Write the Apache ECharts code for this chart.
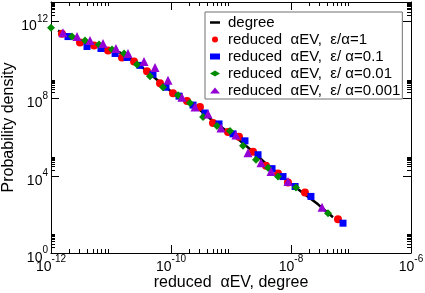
<!DOCTYPE html>
<html><head><meta charset="utf-8">
<script src="https://cdn.jsdelivr.net/npm/echarts@6/dist/echarts.min.js"></script>
<style>html,body{margin:0;padding:0;background:#fff}#c{width:425px;height:293px}</style>
</head><body><div id="c"></div>
<script>
// ---- data ----
const degreeLine = [[1.31e-12,3.29e11],[3.04e-12,1.0e11],[6.56e-12,4.94e10],[1.41e-11,2.43e10],[2.42e-11,9.43e9],[3.98e-11,2.56e9],[6.56e-11,6.97e8],[1.08e-10,1.90e8],[1.85e-10,6.53e7],[3.04e-10,2.53e7],[5.01e-10,6.89e6],[8.91e-10,1.87e6],[1.36e-9,7.26e5],[2.33e-9,1.75e5],[3.83e-9,4.24e4],[6.07e-9,1.30e4],[8.91e-9,5.03e3],[1.71e-8,1.08e3],[2.82e-8,331],[5.01e-8,71]];
const seriesEps1 = [[1.52e-12,2.30e11],[3.04e-12,7.94e10],[5.21e-12,5.57e10],[8.91e-12,3.08e10],[1.52e-11,1.34e10],[2.42e-11,8.37e9],[3.98e-11,2.56e9],[6.56e-11,6.20e8],[1.08e-10,1.90e8],[1.85e-10,7.35e7],[3.04e-10,3.61e7],[5.01e-10,5.43e6],[8.91e-10,1.87e6],[1.36e-9,1.04e6],[2.33e-9,1.75e5],[3.83e-9,3.34e4],[6.07e-9,1.30e4],[8.91e-9,4.47e3],[1.71e-8,1.37e3],[6.07e-8,56]];
const seriesEps01 = [[1.92e-12,1.62e11],[3.98e-12,4.94e10],[6.81e-12,3.90e10],[1.17e-11,2.16e10],[1.85e-11,1.34e10],[3.04e-11,5.21e9],[5.01e-11,1.80e9],[8.25e-11,3.86e8],[1.36e-10,1.33e8],[2.33e-10,4.58e7],[3.69e-10,1.78e7],[6.31e-10,4.83e6],[1.08e-9,1.48e6],[1.71e-9,6.45e5],[2.82e-9,1.23e5],[4.83e-9,2.34e4],[7.36e-9,9.10e3],[1.17e-8,2.79e3],[2.15e-8,853],[7.36e-8,35]];
const seriesEps001 = [[1.0e-12,4.69e11],[2.24e-12,1.62e11],[3.69e-12,1.0e11],[6.31e-12,6.27e10],[1.04e-11,3.47e10],[1.65e-11,2.16e10],[2.71e-11,5.87e9],[4.47e-11,1.42e9],[7.36e-11,3.86e8],[1.31e-10,1.50e8],[2.07e-10,5.80e7],[3.42e-10,1.11e7],[5.85e-10,3.81e6],[9.62e-10,2.11e6],[1.585e-9,3.57e5],[2.61e-9,6.81e4],[4.14e-9,2.64e4],[6.07e-9,9.10e3],[1.21e-8,2.47e3],[4.14e-8,114]];
const seriesEps0001 = [[1.585e-12,2.59e11],[2.71e-12,1.62e11],[4.47e-12,1.0e11],[7.36e-12,7.05e10],[1.21e-11,3.90e10],[1.92e-11,2.16e10],[3.55e-11,8.37e9],[5.41e-11,4.11e9],[8.91e-11,8.84e8],[1.52e-10,1.18e8],[2.51e-10,3.61e7],[4.14e-10,1.58e7],[6.81e-10,3.01e6],[1.21e-9,1.31e6],[1.92e-9,1.56e5],[3.16e-9,4.77e4],[4.64e-9,1.64e4],[8.91e-9,5.03e3],[3.29e-8,232]];
const seriesNames = ['degree','reduced  \u03b1EV,  \u03b5/\u03b1=1','reduced  \u03b1EV,  \u03b5/ \u03b1=0.1','reduced  \u03b1EV,  \u03b5/ \u03b1=0.01','reduced  \u03b1EV,  \u03b5/ \u03b1=0.001'];
// tick positions
const xMajorTicks = [1e-12,1e-10,1e-8,1e-6];
const xMinorTicks = [2e-12,3e-12,4e-12,5e-12,6e-12,7e-12,8e-12,9e-12,2e-10,3e-10,4e-10,5e-10,6e-10,7e-10,8e-10,9e-10,2e-8,3e-8,4e-8,5e-8,6e-8,7e-8,8e-8,9e-8];
const yMajorTicks = [1,1e4,1e8,1e12];
const yMinorTicks = [2,3,4,5,6,7,8,9,2e4,3e4,4e4,5e4,6e4,7e4,8e4,9e4,2e8,3e8,4e8,5e8,6e8,7e8,8e8,9e8,2e12,3e12,4e12,5e12,6e12,7e12,8e12,9e12];
const X_MIN = 1e-12, X_MAX = 1e-6, Y_MIN = 1, Y_MAX = 1e13;

const FONT = 'Liberation Sans';
function supLabel(v){ return '{b|10}{s|' + Math.round(Math.log10(v)) + '}'; }
const rich = {
  b:{fontSize:14,fontFamily:FONT,color:'#000',lineHeight:14,padding:[8,0,0,0]},
  s:{fontSize:10,fontFamily:FONT,color:'#000',lineHeight:10,padding:[0,0,7,0]}
};
function axis(dim, pos, ticks, len, opts){
  const a = {
    type:'log', logBase:10, position:pos,
    min: dim==='x'?X_MIN:Y_MIN, max: dim==='x'?X_MAX:Y_MAX,
    axisLine:{show:!!opts.line, lineStyle:{color:'#000',width:1}},
    axisTick:{show:true, inside:true, length:len, customValues:ticks, lineStyle:{color:'#000',width:1}},
    axisLabel:{show:false},
    splitLine:{show:false}, minorTick:{show:false}, minorSplitLine:{show:false}
  };
  if (opts.label) {
    a.axisLabel = {show:true, customValues:ticks, formatter:supLabel, rich:rich, margin:opts.margin, padding:opts.lpad};
  }
  if (opts.name) {
    a.name = opts.name; a.nameLocation='middle'; a.nameGap=opts.nameGap; a.nameMoveOverlap=false;
    a.nameTextStyle = {fontSize:16,fontFamily:FONT,color:'#000'};
  }
  return a;
}
const chart = echarts.init(document.getElementById('c'), null, {renderer:'canvas'});
chart.setOption({
  animation:false,
  backgroundColor:'#fff',
  grid:{left:51,right:14,top:2,bottom:40,containLabel:false,outerBoundsMode:'none'},
  xAxis:[
    axis('x','bottom',xMajorTicks,8,{line:true,label:true,margin:3,lpad:[0,0,0,0],name:'reduced  \u03b1EV, degree',nameGap:22}),
    axis('x','bottom',xMinorTicks,4,{}),
    axis('x','top',xMajorTicks,8,{line:true}),
    axis('x','top',xMinorTicks,4,{})
  ],
  yAxis:[
    axis('y','left',yMajorTicks,8,{line:true,label:true,margin:3,lpad:[2,0,0,0],name:'Probability density',nameGap:34}),
    axis('y','left',yMinorTicks,4,{}),
    axis('y','right',yMajorTicks,8,{line:true}),
    axis('y','right',yMinorTicks,4,{})
  ],
  legend:{
    left:205, top:12, orient:'vertical', itemWidth:10, itemHeight:6, itemGap:2,
    padding:[3,2,1,5], borderColor:'#707070', borderWidth:1, backgroundColor:'#fff',
    textStyle:{fontSize:15,fontFamily:FONT,color:'#000',lineHeight:15,padding:[0,0,0,3]},
    data:[
      {name:seriesNames[0], icon:'path://M0,0L10,0L10,2.5L0,2.5Z'},
      {name:seriesNames[1]},{name:seriesNames[2]},{name:seriesNames[3]},{name:seriesNames[4]}
    ]
  },
  series:[
    {name:seriesNames[0],type:'line',data:degreeLine,symbol:'none',showSymbol:false,lineStyle:{color:'#000',width:2.5},itemStyle:{color:'#000'},z:2},
    {name:seriesNames[1],type:'scatter',data:seriesEps1,symbol:'circle',symbolSize:8,itemStyle:{color:'#ff0000',opacity:1},z:3},
    {name:seriesNames[2],type:'scatter',data:seriesEps01,symbol:'rect',symbolSize:7,itemStyle:{color:'#0000ff',opacity:1},z:3},
    {name:seriesNames[3],type:'scatter',data:seriesEps001,symbol:'diamond',symbolSize:8,itemStyle:{color:'#008b00',opacity:1},z:3},
    {name:seriesNames[4],type:'scatter',data:seriesEps0001,symbol:'triangle',symbolSize:9,itemStyle:{color:'#9400d3',opacity:1},z:3}
  ]
});
</script></body></html>
